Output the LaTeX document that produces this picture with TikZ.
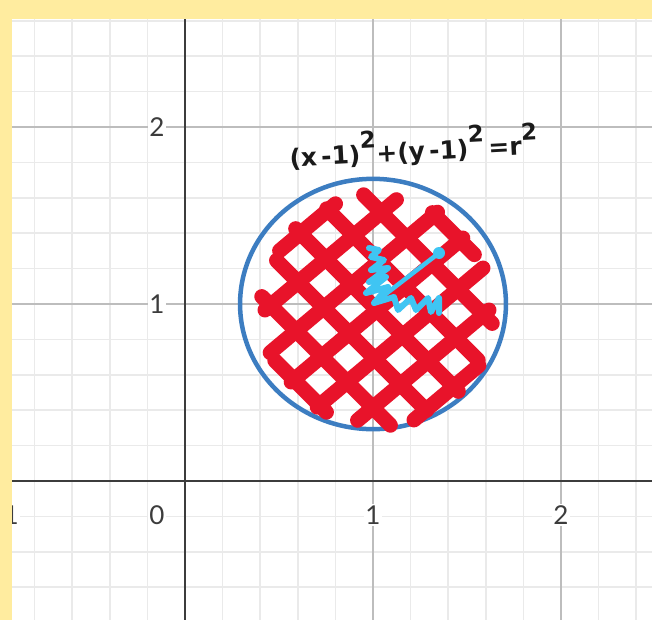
\documentclass[tikz,border=0pt]{standalone}
\usepackage{fontspec}
\usepackage{tikz}
\usetikzlibrary{calc}
\newfontfamily\tickfont{Lato}
\newfontfamily\handfont{DejaVu Sans}
\definecolor{paper}   {HTML}{FFEC9F}
\definecolor{ink}     {HTML}{1A1A1A}
\definecolor{gridmin} {HTML}{EAEAEA}
\definecolor{gridmaj} {HTML}{BDBDBD}
\definecolor{curve}   {HTML}{3C7DC1}
\definecolor{marker}  {HTML}{E8132A}
\definecolor{skyink}  {HTML}{3FC5F3}
\newcommand\hsq{\raisebox{.6em}{\fontsize{23}{23}\selectfont 2}}
\tikzset{
  % --- grid
  minorline/.style = {draw=gridmin, line width=1.6pt},
  majorline/.style = {draw=gridmaj, line width=1.8pt},
  axisline/.style  = {draw=ink!85, line width=2.4pt},
  % --- labels
  ticklbl/.style   = {font=\tickfont\fontsize{26}{30}\selectfont, text=ink!85,
                      fill=white, inner sep=1.5pt},
  handlbl/.style   = {font=\handfont\bfseries\fontsize{25}{29}\selectfont, text=ink},
  % --- strokes
  hatch/.style     = {draw=marker, line width=15pt, line cap=round},
  pen/.style       = {draw=skyink, line width=6pt, line cap=round, line join=round},
}

\begin{document}
\begin{tikzpicture}[x=188pt,y=177pt]
  \useasboundingbox (-0.984,-0.785) rectangle (2.484,2.7175);
  \fill[paper] (-0.984,-0.785) rectangle (2.484,2.7175);
  \fill[white] (-0.92,-0.785) rectangle (2.484,2.61);

  % grid and axes
  \foreach \i in {-4,...,12} \draw[minorline] (\i/5,-0.785) -- (\i/5,2.61);
  \foreach \j in {-3,...,13} \draw[minorline] (-0.92,\j/5) -- (2.484,\j/5);
  \foreach \k in {1,2} {
    \draw[majorline] (\k,-0.785) -- (\k,2.61);
    \draw[majorline] (-0.92,\k) -- (2.484,\k);
  }
  \draw[axisline] (0,-0.785) -- (0,2.61);
  \draw[axisline] (-0.92,0) -- (2.484,0);

  \node[ticklbl] (xm1) at (-0.965,-0.192) {−1};
  \node[ticklbl] (x0)  at (-0.15,-0.192) {0};
  \node[ticklbl] (x1)  at (1,-0.192) {1};
  \node[ticklbl] (x2)  at (2,-0.192) {2};
  \node[ticklbl] (y1)  at (-0.15,1) {1};
  \node[ticklbl] (y2)  at (-0.15,2) {2};

  % the circle
  \draw[curve, line width=4.5pt] (1,1) ellipse [x radius=0.7071, y radius=0.7071];

  % scribbles, in pixels round the centre
  \begin{scope}[shift={(1,1)}, x=1pt, y=1pt]
    \begin{scope}[shift={(4,-6)}]
      \foreach \s/\r in {-108/116,-72/112,-36/114,0/112,36/115,72/112,108/114} {
        \pgfmathsetmacro\t{sqrt(\r*\r-\s*\s)}
        \draw[hatch] ($(130:\s)+(40:-\t)$) -- ($(130:\s)+(40:\t)$);
      }
      \foreach \s/\r in {-108/114,-72/116,-36/112,0/115,36/113,72/116,108/112} {
        \pgfmathsetmacro\t{sqrt(\r*\r-\s*\s)}
        \draw[hatch] ($(45:\s)+(-45:-\t)$) -- ($(45:\s)+(-45:\t)$);
      }
    \end{scope}
    \draw[pen] (-4,56) -- (6,54) -- (-2,47) -- (11,44) -- (-2,34) -- (15,36)
      -- (-4,22) -- (13,27) -- (-7,11) -- (15,17) -- (1,1) -- (21,7) -- (25,-6)
      -- (38,6) -- (43,-6) -- (55,6) -- (58,-8) -- (66,6) -- (66,-9);
    \draw[pen, line width=4.5pt] (5,4) -- (66,51);
    \fill[skyink] (66,51) circle (6);
  \end{scope}

  \node[handlbl, rotate=3] (eqn) at (1.215,1.885)
    {(x\,-1)\hsq+(y\,-1)\hsq\,=r\hsq};

  % yellow frame on top
  \fill[paper] (-0.984,-0.785) rectangle (-0.92,2.7175);
  \fill[paper] (-0.984,2.61) rectangle (2.484,2.7175);
\end{tikzpicture}
\end{document}
